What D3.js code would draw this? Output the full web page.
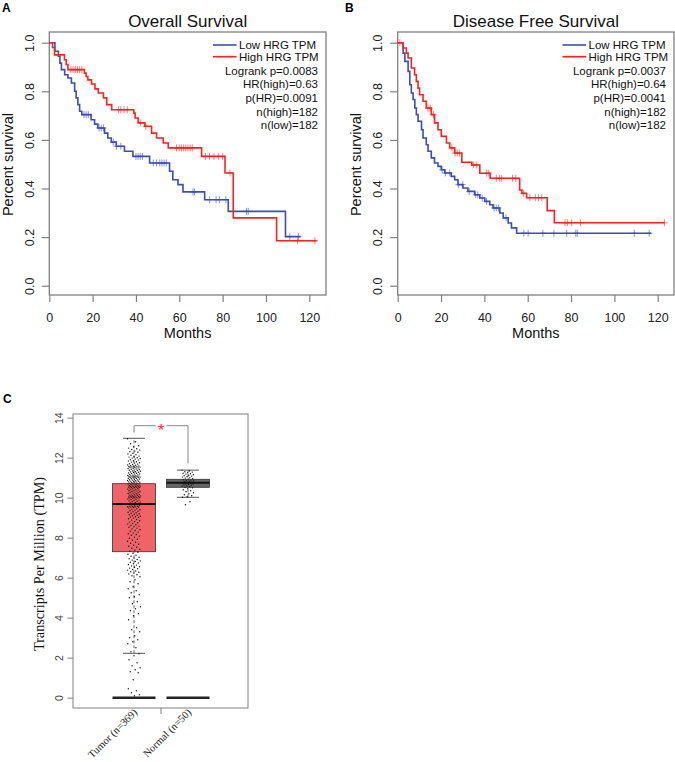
<!DOCTYPE html>
<html><head><meta charset="utf-8">
<script src="https://cdn.jsdelivr.net/npm/d3@7"></script>
<style>body{margin:0;background:#fff} svg{display:block}</style>
</head><body>
<svg id="c" width="675" height="762"></svg>
<script>
// ---------- DATA ----------
const monthTicks = [0, 20, 40, 60, 80, 100, 120];
const survTicks = [0, 0.2, 0.4, 0.6, 0.8, 1.0];
const legendLabels = ["Low HRG TPM", "High HRG TPM"];

// Overall survival (panel A)
const osLowTimes = [2.6, 4.2, 4.9, 5.6, 7.1, 8.6, 10.2, 11.7, 12.4, 13.2, 14, 15, 19.3, 20.9, 22.4, 25.5, 27, 28.6, 30.9, 34.7, 38.6, 46.3, 55.5, 57, 59.4, 61.7, 71.7, 82.6, 109];
const osLowSurv  = [0.965, 0.944, 0.916, 0.889, 0.868, 0.855, 0.834, 0.80, 0.773, 0.745, 0.718, 0.704, 0.683, 0.665, 0.649, 0.628, 0.608, 0.591, 0.574, 0.553, 0.532, 0.505, 0.471, 0.436, 0.416, 0.386, 0.354, 0.306, 0.202];
const osLowEnd = 116;
const osLowCensor = [16, 17, 18, 23, 24, 25, 29.5, 31, 33, 40, 41, 42, 43, 48, 49.5, 51, 52, 53, 54, 66.3, 67, 74, 77, 78.5, 81.5, 91, 91.8, 111, 115];

const osHighTimes = [1.5, 2.4, 7, 7.8, 8.6, 16.2, 17, 17.8, 19.5, 21.1, 22.6, 25, 26.5, 28.8, 39, 39.6, 41, 44.1, 47.2, 49.5, 52.6, 54.9, 70.3, 81.1, 84.9, 104.9];
const osHighSurv  = [0.98, 0.95, 0.93, 0.91, 0.889, 0.875, 0.861, 0.847, 0.83, 0.81, 0.793, 0.773, 0.745, 0.724, 0.71, 0.69, 0.67, 0.656, 0.628, 0.608, 0.587, 0.567, 0.532, 0.464, 0.279, 0.185];
const osHighEnd = 123.4;
const osHighCensor = [10, 11, 12, 13, 14, 15, 32, 33, 34.5, 36, 42, 44.5, 58.7, 60, 61, 62, 63, 64, 65, 66, 72, 74, 76, 78, 80, 83.4, 114.6, 122.6];
const osStats = ["Logrank p=0.0083", "HR(high)=0.63", "p(HR)=0.0091", "n(high)=182", "n(low)=182"];

// Disease free survival (panel B)
const dfsLowTimes = [2.5, 3.3, 4.8, 5.6, 6.3, 7.1, 7.9, 8.6, 9.4, 11, 11.7, 13.2, 14, 15.5, 17, 18.6, 20.1, 21.7, 24.7, 26.3, 27.8, 30.1, 32.4, 35.5, 37.9, 40.2, 42.5, 44, 47.1, 48.7, 51, 52.5, 54.9];
const dfsLowSurv  = [0.957, 0.923, 0.882, 0.827, 0.793, 0.766, 0.731, 0.704, 0.677, 0.642, 0.608, 0.58, 0.553, 0.526, 0.505, 0.491, 0.477, 0.464, 0.45, 0.436, 0.416, 0.402, 0.388, 0.374, 0.361, 0.347, 0.333, 0.32, 0.299, 0.279, 0.258, 0.238, 0.216];
const dfsLowEnd = 117;
const dfsLowCensor = [20.5, 22, 24, 28, 30, 33, 36, 37, 39, 41, 44.5, 45.5, 46.5, 50, 58.2, 60.2, 67, 72.1, 78, 82.2, 82.9, 109.2, 116.1];

const dfsHighTimes = [2.5, 4, 4.8, 6.3, 7.8, 8.6, 9.4, 10.1, 11.7, 13.2, 15.5, 17, 18.6, 20.1, 22.5, 24, 26.3, 29.6, 34.2, 37.9, 42.7, 56.3, 57.3, 59.5, 69, 72.3];
const dfsHighSurv  = [0.978, 0.957, 0.937, 0.896, 0.868, 0.841, 0.813, 0.786, 0.759, 0.731, 0.704, 0.67, 0.642, 0.615, 0.587, 0.567, 0.546, 0.508, 0.497, 0.463, 0.442, 0.394, 0.38, 0.362, 0.309, 0.259];
const dfsHighEnd = 123.1;
const dfsHighCensor = [1, 14, 15, 16.5, 25, 26.5, 27.5, 28.5, 35, 36.5, 41, 42, 45.5, 47, 48, 53, 54.5, 58, 61, 63.5, 65, 66.5, 77.2, 78.3, 80.3, 84.4, 123.1];
const dfsStats = ["Logrank p=0.0037", "HR(high)=0.64", "p(HR)=0.0041", "n(high)=182", "n(low)=182"];

// Expression box plot (panel C)
const groups = ["Tumor (n=369)", "Normal (n=50)"];
const tpmTicks = [0, 2, 4, 6, 8, 10, 12, 14];
const boxQ1 = [7.3, 10.52];
const boxMedian = [9.68, 10.75];
const boxQ3 = [10.7, 10.92];
const whiskerLow = [2.22, 10.02];
const whiskerHigh = [12.97, 11.38];
const tumorVals = [
 12.95, 12.8, 12.7, 12.6, 12.55,
 12.48, 12.45, 12.41, 12.38, 12.33, 12.3, 12.27, 12.22, 12.19, 12.15, 12.12, 12.08, 12.05, 12.03, 12.0,
 11.98, 11.96, 11.93, 11.9, 11.88, 11.85, 11.83, 11.8, 11.78, 11.75, 11.73, 11.7, 11.68, 11.66, 11.64, 11.62, 11.6, 11.59, 11.57, 11.56, 11.55, 11.54, 11.53, 11.52, 11.51,
 11.49, 11.47, 11.46, 11.44, 11.42, 11.41, 11.39, 11.37, 11.36, 11.34, 11.32, 11.3, 11.29, 11.27, 11.26, 11.24, 11.22, 11.21, 11.19, 11.18, 11.16, 11.14, 11.13, 11.11, 11.1, 11.09, 11.08, 11.07, 11.06, 11.05, 11.04, 11.03, 11.02, 11.01, 11.0,
 10.99, 10.97, 10.96, 10.95, 10.93, 10.92, 10.9, 10.89, 10.88, 10.86, 10.85, 10.83, 10.82, 10.81, 10.79, 10.78, 10.76, 10.75, 10.74, 10.72, 10.71, 10.7, 10.68, 10.67, 10.65, 10.64, 10.63, 10.61, 10.6, 10.59, 10.58, 10.57, 10.56, 10.55, 10.54, 10.53, 10.52, 10.51, 10.505, 10.5,
 10.48, 10.46, 10.45, 10.43, 10.41, 10.4, 10.38, 10.36, 10.35, 10.33, 10.31, 10.3, 10.28, 10.26, 10.25, 10.23, 10.21, 10.2, 10.18, 10.16, 10.15, 10.13, 10.12, 10.1, 10.09, 10.08, 10.07, 10.06, 10.05, 10.04, 10.03, 10.02, 10.01, 10.0, 10.0,
 9.98, 9.96, 9.94, 9.92, 9.9, 9.88, 9.86, 9.84, 9.82, 9.8, 9.78, 9.76, 9.74, 9.72, 9.7, 9.68, 9.66, 9.64, 9.62, 9.6, 9.58, 9.57, 9.56, 9.55, 9.54, 9.53, 9.52, 9.51,
 9.48, 9.45, 9.42, 9.4, 9.37, 9.35, 9.32, 9.3, 9.27, 9.25, 9.22, 9.2, 9.17, 9.15, 9.12, 9.1, 9.07, 9.05, 9.03, 9.01,
 8.98, 8.95, 8.91, 8.88, 8.85, 8.81, 8.78, 8.75, 8.71, 8.68, 8.65, 8.61, 8.58, 8.55, 8.52,
 8.48, 8.44, 8.4, 8.36, 8.32, 8.28, 8.24, 8.2, 8.16, 8.12, 8.08, 8.03,
 7.97, 7.92, 7.87, 7.82, 7.77, 7.72, 7.67, 7.62, 7.57, 7.52,
 7.47, 7.42, 7.37, 7.32, 7.27, 7.22, 7.17, 7.12, 7.07, 7.02,
 6.98, 6.95, 6.91, 6.88, 6.84, 6.81, 6.77, 6.74, 6.7, 6.66, 6.63, 6.59, 6.55, 6.52,
 6.48, 6.45, 6.41, 6.38, 6.34, 6.3, 6.27, 6.23, 6.19, 6.15, 6.1, 6.05,
 5.9, 5.8, 5.7, 5.55, 5.45, 5.35, 5.25, 5.15, 5.05, 5.0,
 4.8, 4.7, 4.55, 4.45, 4.35, 4.2, 4.1,
 3.9, 3.5, 3.4, 3.3, 3.1, 3.0,
 2.9, 2.8, 2.7, 2.5, 2.3, 2.2, 2.1,
 1.9, 1.75, 1.6, 1.5, 1.4, 1.3, 1.25,
 0.9, 0.45, 0.35, 0.25, 0.15, 0.1
];
const normalVals = [11.38, 11.35, 11.3, 11.28, 11.25, 11.22, 11.2, 11.18, 11.15, 11.12, 11.1, 11.08, 11.05, 11.03, 11.0, 10.98, 10.95, 10.93, 10.9, 10.88, 10.86, 10.84, 10.82, 10.8, 10.78, 10.76, 10.74, 10.72, 10.7, 10.68, 10.66, 10.64, 10.62, 10.6, 10.58, 10.55, 10.52, 10.5, 10.45, 10.4, 10.35, 10.3, 10.25, 10.2, 10.15, 10.1, 10.05, 10.02, 9.8, 9.65];

// ---------- DRAWING ----------
const svg = d3.select("#c");
const SANS = "'Liberation Sans', Arial, Helvetica, sans-serif";
const SERIF = "'Liberation Serif', 'Times New Roman', serif";
const BLUE = "#3a4db8", RED = "#ff2020", FRAME = "#808080";

function survAt(times, surv, t) {
  const k = d3.bisectRight(times, t);
  return k === 0 ? 1 : surv[k - 1];
}

function drawKM(p) {
  const g = svg.append("g");
  const x = d3.scaleLinear().domain([0, 120]).range([p.left, p.left + 260]);
  const y = d3.scaleLinear().domain([0, 1]).range([285.7, 42.7]);
  const top = 32, bottom = 295;

  g.append("text").attr("x", p.letterX).attr("y", 12).text(p.letter)
    .attr("font-family", SANS).attr("font-weight", "bold").attr("font-size", 12);
  g.append("text").attr("x", (p.left + p.right) / 2).attr("y", 27.3).attr("text-anchor", "middle")
    .attr("font-family", SANS).attr("font-size", 17).attr("fill", "#111").text(p.title);

  g.append("rect").attr("x", p.left).attr("y", top).attr("width", p.right - p.left).attr("height", bottom - top)
    .attr("fill", "none").attr("stroke", FRAME).attr("stroke-width", 1.3);

  const xa = g.append("g").attr("transform", `translate(0,${bottom})`)
    .call(d3.axisBottom(x).tickValues(monthTicks).tickSize(7).tickFormat(d3.format("d")));
  xa.select(".domain").remove();
  xa.selectAll("line").attr("stroke", FRAME).attr("stroke-width", 1.2);
  xa.selectAll("text").attr("y", 26.7).attr("dy", 0).attr("font-family", SANS).attr("font-size", 12.5).attr("fill", "#222");
  g.append("text").attr("x", (p.left + p.right) / 2).attr("y", 338).attr("text-anchor", "middle")
    .attr("font-family", SANS).attr("font-size", 14.5).attr("fill", "#111").text("Months");

  const ya = g.append("g").attr("transform", `translate(${p.left},0)`)
    .call(d3.axisLeft(y).tickValues(survTicks).tickSize(7.5).tickFormat(d3.format(".1f")));
  ya.select(".domain").remove();
  ya.selectAll("line").attr("stroke", FRAME).attr("stroke-width", 1.2);
  ya.selectAll("text").attr("x", 0).attr("dy", 0).attr("text-anchor", "middle")
    .attr("transform", "translate(-15.3,0) rotate(-90)")
    .attr("font-family", SANS).attr("font-size", 12.5).attr("fill", "#222");
  g.append("text").attr("transform", `translate(${p.left - 36.3},${(top + bottom) / 2 + 1}) rotate(-90)`)
    .attr("text-anchor", "middle").attr("font-family", SANS).attr("font-size", 14.5).attr("fill", "#111")
    .text("Percent survival");

  const line = d3.line().x(d => x(d[0])).y(d => y(d[1])).curve(d3.curveStepAfter);
  p.curves.forEach(c => {
    const pts = [[0, 1]].concat(c.times.map((t, i) => [t, c.surv[i]])).concat([[c.end, c.surv[c.surv.length - 1]]]);
    g.append("path").attr("d", line(pts)).attr("fill", "none").attr("stroke", c.color).attr("stroke-width", 1.6);
    const cg = g.append("g").attr("stroke", c.color).attr("stroke-opacity", 0.6).attr("stroke-width", 1);
    c.censor.forEach(t => {
      const cx = x(t), cy = y(survAt(c.times, c.surv, t));
      cg.append("line").attr("x1", cx).attr("x2", cx).attr("y1", cy - 3.5).attr("y2", cy + 3.5);
      cg.append("line").attr("x1", cx - 3).attr("x2", cx + 3).attr("y1", cy).attr("y2", cy);
    });
  });

  [BLUE, RED].forEach((col, i) => {
    const ly = 45 + i * 11.7;
    g.append("line").attr("x1", p.legendX).attr("x2", p.legendX + 23.5).attr("y1", ly).attr("y2", ly)
      .attr("stroke", col).attr("stroke-width", 1.6);
    g.append("text").attr("x", p.legendX + 26).attr("y", ly + 4.1).attr("font-family", SANS)
      .attr("font-size", 11.5).attr("fill", "#111").text(legendLabels[i]);
  });
  p.stats.forEach((s, i) => {
    g.append("text").attr("x", p.right - 8).attr("y", 74.7 + i * 13.6).attr("text-anchor", "end")
      .attr("font-family", SANS).attr("font-size", 11.5).attr("fill", "#111").text(s);
  });
}

drawKM({
  letter: "A", letterX: 2, title: "Overall Survival", left: 49.3, right: 326, legendX: 213, stats: osStats,
  curves: [
    {times: osLowTimes, surv: osLowSurv, end: osLowEnd, censor: osLowCensor, color: BLUE},
    {times: osHighTimes, surv: osHighSurv, end: osHighEnd, censor: osHighCensor, color: RED}
  ]
});
drawKM({
  letter: "B", letterX: 345, title: "Disease Free Survival", left: 397.7, right: 674, legendX: 562.5, stats: dfsStats,
  curves: [
    {times: dfsLowTimes, surv: dfsLowSurv, end: dfsLowEnd, censor: dfsLowCensor, color: BLUE},
    {times: dfsHighTimes, surv: dfsHighSurv, end: dfsHighEnd, censor: dfsHighCensor, color: RED}
  ]
});

// ---------- Panel C ----------
(function () {
  const g = svg.append("g");
  const L = 73, R = 248, T = 414, B = 708;
  const xs = d3.scalePoint().domain(groups).range([134, 188]);
  const ys = d3.scaleLinear().domain([0, 14]).range([697.7, 417.7]);
  const hw = 21.5;
  const fills = ["#f06468", "#666666"];
  const jitW = [13, 12];

  g.append("text").attr("x", 3).attr("y", 403).text("C")
    .attr("font-family", SANS).attr("font-weight", "bold").attr("font-size", 12);

  g.append("rect").attr("x", L).attr("y", T).attr("width", R - L).attr("height", B - T)
    .attr("fill", "none").attr("stroke", FRAME).attr("stroke-width", 1);

  const ya = g.append("g").attr("transform", `translate(${L},0)`)
    .call(d3.axisLeft(ys).tickValues(tpmTicks).tickSize(5.5).tickFormat(d3.format("d")));
  ya.select(".domain").remove();
  ya.selectAll("line").attr("stroke", FRAME);
  ya.selectAll("text").attr("x", 0).attr("dy", 0).attr("text-anchor", "middle")
    .attr("transform", "translate(-10.5,0) rotate(-90)")
    .attr("font-family", SANS).attr("font-size", 10.5).attr("fill", "#444");
  g.append("text").attr("transform", `translate(44,${(T + B) / 2 + 3}) rotate(-90)`)
    .attr("text-anchor", "middle").attr("font-family", SERIF).attr("font-size", 14.2).attr("fill", "#111")
    .text("Transcripts Per Million (TPM)");

  const mid = (xs(groups[0]) + xs(groups[1])) / 2;
  g.append("line").attr("x1", mid).attr("x2", mid).attr("y1", B).attr("y2", B + 6).attr("stroke", FRAME);
  groups.forEach(gr => {
    g.append("text").attr("transform", `translate(${xs(gr) + 4},713) rotate(-45)`)
      .attr("text-anchor", "end").attr("font-family", SERIF).attr("font-size", 10.5).attr("fill", "#222").text(gr);
  });

  groups.forEach((gr, i) => {
    const cx = xs(gr);
    g.append("line").attr("x1", cx).attr("x2", cx).attr("y1", ys(whiskerLow[i])).attr("y2", ys(whiskerHigh[i]))
      .attr("stroke", "#444").attr("stroke-width", 0.8).attr("stroke-dasharray", "3,2");
    [whiskerLow[i], whiskerHigh[i]].forEach(v => {
      g.append("line").attr("x1", cx - 11).attr("x2", cx + 11).attr("y1", ys(v)).attr("y2", ys(v))
        .attr("stroke", "#555").attr("stroke-width", 1);
    });
    g.append("rect").attr("x", cx - hw).attr("width", 2 * hw).attr("y", ys(boxQ3[i]))
      .attr("height", ys(boxQ1[i]) - ys(boxQ3[i])).attr("fill", fills[i]).attr("stroke", "#333").attr("stroke-width", 0.8);
    g.append("line").attr("x1", cx - hw).attr("x2", cx + hw).attr("y1", ys(boxMedian[i])).attr("y2", ys(boxMedian[i]))
      .attr("stroke", "#111").attr("stroke-width", 2);
    g.append("line").attr("x1", cx - hw).attr("x2", cx + hw).attr("y1", ys(0)).attr("y2", ys(0))
      .attr("stroke", "#222").attr("stroke-width", 2.5);
  });

  const jit = i => ((i * 0.6180339887) % 1) - 0.5;
  [tumorVals, normalVals].forEach((vals, gi) => {
    const cx = xs(groups[gi]);
    g.append("g").selectAll("circle").data(vals).join("circle")
      .attr("cx", (d, i) => cx + jit(i) * jitW[gi])
      .attr("cy", d => ys(d)).attr("r", 0.7).attr("fill", "#111");
  });

  const x1 = xs(groups[0]), x2 = xs(groups[1]);
  const by = ys(13.6);
  const br = g.append("g").attr("stroke", "#888").attr("stroke-width", 1).attr("fill", "none");
  br.append("path").attr("d", `M${x1},${ys(whiskerHigh[0]) - 5.6}V${by}H${mid - 5.5}`);
  br.append("path").attr("d", `M${mid + 5.5},${by}H${x2}V${ys(whiskerHigh[1]) - 6.7}`);
  g.append("text").attr("x", mid).attr("y", by + 10).attr("text-anchor", "middle")
    .attr("font-family", SANS).attr("font-size", 17).attr("fill", "#f03030").text("*");
})();
</script>
</body></html>
